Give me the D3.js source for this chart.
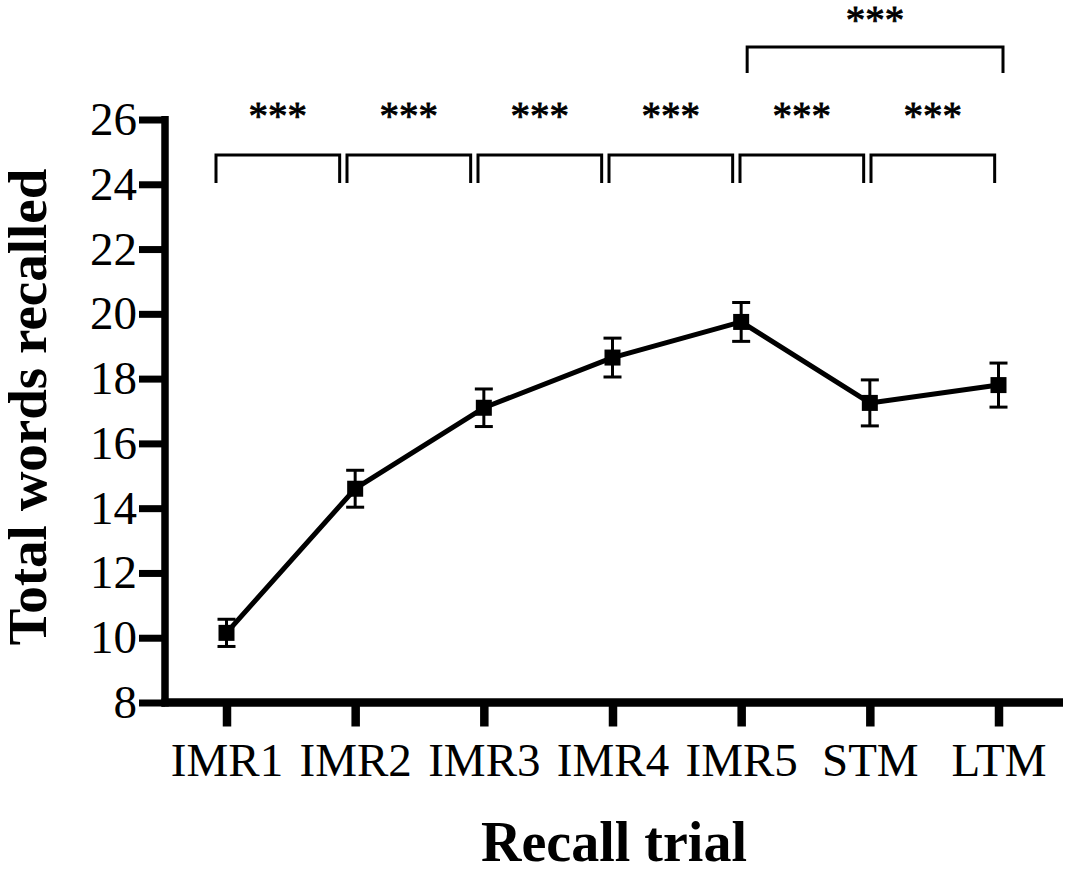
<!DOCTYPE html>
<html>
<head>
<meta charset="utf-8">
<script src="https://cdn.jsdelivr.net/npm/d3@7"></script>
<style>
  body { margin: 0; background: #fff; }
  svg { display: block; }
  text { font-family: "Liberation Serif", "Times New Roman", serif; fill: #000; }
</style>
</head>
<body>
<svg id="chart" width="1067" height="869"></svg>
<script>
// values
var trials = ["IMR1", "IMR2", "IMR3", "IMR4", "IMR5", "STM", "LTM"];
var meanWords = [10.15, 14.6, 17.1, 18.65, 19.75, 17.25, 17.8];
var semWords = [0.42, 0.57, 0.58, 0.6, 0.6, 0.71, 0.68];
var yTicks = [8, 10, 12, 14, 16, 18, 20, 22, 24, 26];

// significance brackets between neighbouring trials, plus IMR5 vs LTM
var pairFrom = ["IMR1", "IMR2", "IMR3", "IMR4", "IMR5", "STM"];
var pairTo = ["IMR2", "IMR3", "IMR4", "IMR5", "STM", "LTM"];
var pairLabel = ["***", "***", "***", "***", "***", "***"];
var wideFrom = "IMR5", wideTo = "LTM", wideLabel = "***";

var svg = d3.select("#chart");

var x = d3.scalePoint()
    .domain(trials)
    .range([226.5, 998.5]);

var y = d3.scaleLinear()
    .domain([8, 26])
    .range([702.5, 119.5]);

var axisLeftX = 165;
var axisRightX = 1063;

// y axis
var yAxis = svg.append("g")
    .attr("transform", "translate(" + axisLeftX + ",0)")
    .call(d3.axisLeft(y).tickValues(yTicks).tickSize(26).tickPadding(2).tickFormat(d3.format("d")));
yAxis.select(".domain").remove();
yAxis.selectAll(".tick line").attr("stroke", "#000").attr("stroke-width", 7);
yAxis.selectAll(".tick text")
    .style("font-size", "47px")
    .attr("fill", "#000");

svg.append("line")
    .attr("x1", axisLeftX).attr("x2", axisLeftX)
    .attr("y1", y(26) - 3.5).attr("y2", y(8) + 4)
    .attr("stroke", "#000")
    .attr("stroke-width", 7.5);

// x axis
var xAxis = svg.append("g")
    .attr("transform", "translate(0," + y(8) + ")")
    .call(d3.axisBottom(x).tickSize(24).tickPadding(16));
xAxis.select(".domain").remove();
xAxis.selectAll(".tick line").attr("stroke", "#000").attr("stroke-width", 8.5);
xAxis.selectAll(".tick text")
    .style("font-size", "47px")
    .attr("fill", "#000");

svg.append("line")
    .attr("x1", axisLeftX - 3.5).attr("x2", axisRightX)
    .attr("y1", y(8)).attr("y2", y(8))
    .attr("stroke", "#000")
    .attr("stroke-width", 8.5);

// axis titles
svg.append("text")
    .attr("transform", "translate(46,407) rotate(-90)")
    .attr("text-anchor", "middle")
    .style("font-size", "55px")
    .style("font-weight", "bold")
    .text("Total words recalled");

svg.append("text")
    .attr("x", (axisLeftX + axisRightX) / 2)
    .attr("y", 861)
    .attr("text-anchor", "middle")
    .style("font-size", "56px")
    .style("font-weight", "bold")
    .text("Recall trial");

// data
var rows = trials.map(function(t, i) {
    return { trial: t, mean: meanWords[i], sem: semWords[i] };
});

var line = d3.line()
    .x(function(d) { return x(d.trial); })
    .y(function(d) { return y(d.mean); });

svg.append("path")
    .datum(rows)
    .attr("d", line)
    .attr("fill", "none")
    .attr("stroke", "#000")
    .attr("stroke-width", 5)
    .attr("stroke-linejoin", "round");

var bars = svg.append("g")
    .attr("stroke", "#000")
    .attr("stroke-width", 3);

bars.selectAll(".stem")
    .data(rows)
    .enter().append("line")
    .attr("x1", function(d) { return x(d.trial); })
    .attr("x2", function(d) { return x(d.trial); })
    .attr("y1", function(d) { return y(d.mean + d.sem); })
    .attr("y2", function(d) { return y(d.mean - d.sem); });

bars.selectAll(".capTop")
    .data(rows)
    .enter().append("line")
    .attr("x1", function(d) { return x(d.trial) - 9; })
    .attr("x2", function(d) { return x(d.trial) + 9; })
    .attr("y1", function(d) { return y(d.mean + d.sem); })
    .attr("y2", function(d) { return y(d.mean + d.sem); });

bars.selectAll(".capBottom")
    .data(rows)
    .enter().append("line")
    .attr("x1", function(d) { return x(d.trial) - 9; })
    .attr("x2", function(d) { return x(d.trial) + 9; })
    .attr("y1", function(d) { return y(d.mean - d.sem); })
    .attr("y2", function(d) { return y(d.mean - d.sem); });

svg.selectAll(".marker")
    .data(rows)
    .enter().append("rect")
    .attr("x", function(d) { return x(d.trial) - 8; })
    .attr("y", function(d) { return y(d.mean) - 8; })
    .attr("width", 16)
    .attr("height", 16)
    .attr("fill", "#000");

// brackets
function bracket(x1, x2, yTop, drop, label, labelY) {
    svg.append("path")
        .attr("d", "M" + x1 + "," + (yTop + drop) + "V" + yTop + "H" + x2 + "V" + (yTop + drop))
        .attr("fill", "none")
        .attr("stroke", "#000")
        .attr("stroke-width", 3);
    svg.append("text")
        .attr("x", (x1 + x2) / 2)
        .attr("y", labelY)
        .attr("text-anchor", "middle")
        .style("font-size", "39px")
        .attr("stroke", "#000")
        .attr("stroke-width", 0.8)
        .text(label);
}

// the hand-placed brackets drift slightly right of the ticks
var pitch = 131;
pairFrom.forEach(function(f, i) {
    var start = x(pairFrom[0]) - 10.5 + i * pitch;
    var end = start + (x(pairTo[i]) - x(f)) - 5;
    bracket(start, end, 155, 28, pairLabel[i], 129);
});

bracket(x(wideFrom) + 6, x(wideTo) + 4.5, 47, 26, wideLabel, 33);
</script>
</body>
</html>
